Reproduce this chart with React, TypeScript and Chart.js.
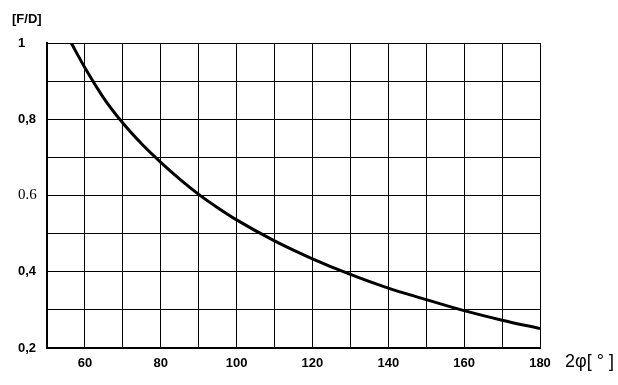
import React, { useEffect, useRef } from "react";
import { Chart, registerables } from "chart.js";

Chart.register(...registerables);

const angles = [56.4, 60, 65, 70, 75, 80, 85, 90, 95, 100, 110, 120, 130, 140, 150, 160, 170, 180];
const ratios = [1.0, 0.935, 0.855, 0.79, 0.735, 0.687, 0.643, 0.603, 0.568, 0.536, 0.481, 0.434, 0.393, 0.357, 0.327, 0.298, 0.273, 0.251];
const xTickLabels: Record<number, string> = { 60: "60", 80: "80", 100: "100", 120: "120", 140: "140", 160: "160", 180: "180" };
const yTickLabels: Record<number, string> = { 2: "0,2", 4: "0,4", 6: "0.6", 8: "0,8", 10: "1" };
const yAxisTitle = "[F/D]";
const xAxisTitle = "2φ[ ° ]";

export default function App() {
  const ref = useRef<HTMLCanvasElement | null>(null);
  useEffect(() => {
    if (!ref.current) return;
    const sans = "'Liberation Sans', Arial, sans-serif";
    const chart = new Chart(ref.current, {
      type: "line",
      data: {
        datasets: [
          {
            data: angles.map((a, i) => ({ x: a, y: ratios[i] })),
            borderColor: "#000",
            borderWidth: 3,
            pointRadius: 0,
            cubicInterpolationMode: "monotone",
            fill: false,
          },
        ],
      },
      options: {
        responsive: false,
        animation: false,
        devicePixelRatio: 1,
        layout: { padding: { left: 18, top: 43, right: 78, bottom: 0 } },
        plugins: { legend: { display: false }, tooltip: { enabled: false }, title: { display: false } },
        scales: {
          x: {
            type: "linear",
            min: 50,
            max: 180,
            afterFit: (s: any) => {
              s.height = 37;
            },
            border: { display: true, color: "#000", width: 2 },
            grid: { color: "#000", lineWidth: 1, drawTicks: false },
            ticks: {
              stepSize: 10,
              autoSkip: false,
              maxRotation: 0,
              padding: 8,
              color: "#000",
              font: { family: sans, size: 13, weight: "bold" },
              callback: (v: any) => xTickLabels[Math.round(Number(v))] ?? "",
            },
          },
          y: {
            type: "linear",
            min: 0.2,
            max: 1.0,
            afterFit: (s: any) => {
              s.width = 29;
            },
            border: { display: true, color: "#000", width: 2 },
            grid: { color: "#000", lineWidth: 1, drawTicks: false },
            ticks: {
              stepSize: 0.1,
              autoSkip: false,
              crossAlign: "far",
              padding: 6,
              color: "#000",
              font: (c: any) =>
                Math.round(Number(c.tick?.value) * 10) === 6
                  ? { family: "'Liberation Serif', 'Times New Roman', serif", size: 15, weight: "normal" }
                  : { family: sans, size: 13, weight: "bold" },
              callback: (v: any) => yTickLabels[Math.round(Number(v) * 10)] ?? "",
            },
          },
        },
      },
    } as any);
    return () => chart.destroy();
  }, []);

  return (
    <div style={{ position: "absolute", left: 0, top: 0, width: 618, height: 385, background: "#fff" }}>
      <canvas ref={ref} width={618} height={385} style={{ display: "block" }} />
      <div
        style={{
          position: "absolute",
          left: 12,
          top: 11,
          lineHeight: "14px",
          font: "bold 13px 'Liberation Sans', Arial, sans-serif",
          color: "#000",
          whiteSpace: "nowrap",
        }}
      >
        {yAxisTitle}
      </div>
      <div
        style={{
          position: "absolute",
          left: 565,
          top: 351,
          lineHeight: "22px",
          font: "18px 'Liberation Sans', Arial, sans-serif",
          color: "#000",
          whiteSpace: "nowrap",
        }}
      >
        {xAxisTitle}
      </div>
    </div>
  );
}
